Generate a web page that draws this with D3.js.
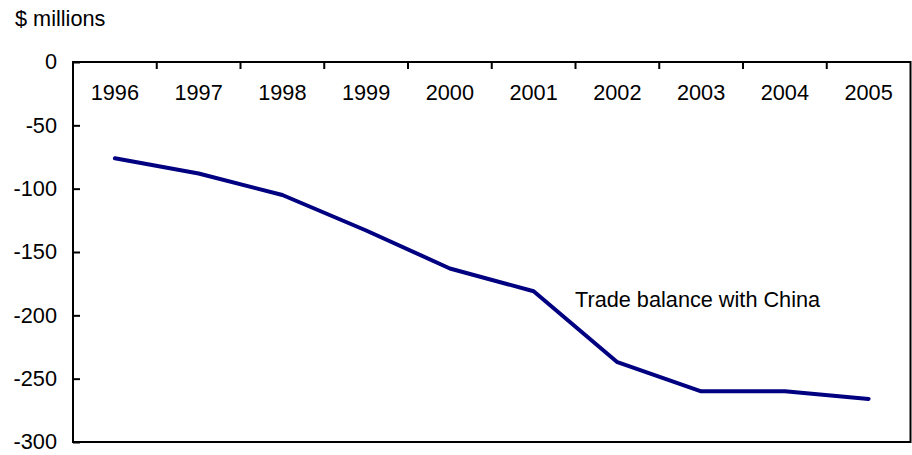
<!DOCTYPE html>
<html>
<head>
<meta charset="utf-8">
<script src="https://cdn.jsdelivr.net/npm/d3@7"></script>
<style>
  html, body { margin: 0; padding: 0; background: #fff; }
  svg { display: block; font-family: "Liberation Sans", Arial, sans-serif; }
</style>
</head>
<body>
<svg id="chart" width="912" height="455"></svg>
<script>
// Trade balance with China, $ millions
const years = ["1996", "1997", "1998", "1999", "2000", "2001", "2002", "2003", "2004", "2005"];
const balance = [-76, -88, -105, -133, -163, -181, -237, -260, -260, -266];
const yTicks = [0, -50, -100, -150, -200, -250, -300];
const unitLabel = "$ millions";
const seriesLabel = "Trade balance with China";

const svg = d3.select("#chart");
const plot = { left: 73, right: 910.5, top: 62, bottom: 442 };
const fontSize = 21.7;

const x = d3.scaleBand().domain(years).range([plot.left, plot.right]).padding(0);
const y = d3.scaleLinear().domain([-300, 0]).range([plot.bottom, plot.top]);

// Unit caption above the value axis
svg.append("text")
  .attr("x", 15).attr("y", 26)
  .attr("font-size", fontSize)
  .attr("fill", "#000")
  .text(unitLabel);

// Value axis: labels outside, ticks pointing inward; plain hyphen for negatives
const yAxis = svg.append("g")
  .attr("transform", `translate(${plot.left},0)`)
  .call(d3.axisRight(y).tickValues(yTicks).tickSize(7).tickFormat(d => String(d)).tickPadding(0));
yAxis.select(".domain").remove();
yAxis.selectAll(".tick line").attr("stroke", "#000").attr("stroke-width", 2);
yAxis.selectAll(".tick text")
  .attr("x", -16)
  .attr("text-anchor", "end")
  .attr("font-size", fontSize)
  .attr("fill", "#000")
  .attr("font-family", "Liberation Sans, Arial, sans-serif");

// Category axis along the zero line, ticks at band boundaries pointing down
const bounds = years.slice(1).map(yr => x(yr));
svg.append("g")
  .selectAll("line")
  .data(bounds)
  .join("line")
  .attr("x1", d => d).attr("x2", d => d)
  .attr("y1", y(0)).attr("y2", y(0) + 7)
  .attr("stroke", "#000").attr("stroke-width", 2);

svg.append("g")
  .selectAll("text")
  .data(years)
  .join("text")
  .attr("x", d => x(d) + x.bandwidth() / 2)
  .attr("y", 100)
  .attr("text-anchor", "middle")
  .attr("font-size", fontSize)
  .attr("fill", "#000")
  .text(d => d);

// Plot frame
svg.append("rect")
  .attr("x", plot.left).attr("y", plot.top)
  .attr("width", plot.right - plot.left)
  .attr("height", plot.bottom - plot.top)
  .attr("fill", "none")
  .attr("stroke", "#000")
  .attr("stroke-width", 2);

// Series line
const line = d3.line()
  .x((d, i) => x(years[i]) + x.bandwidth() / 2)
  .y(d => y(d));

svg.append("path")
  .datum(balance)
  .attr("d", line)
  .attr("fill", "none")
  .attr("stroke", "#000080")
  .attr("stroke-width", 4)
  .attr("stroke-linejoin", "round")
  .attr("stroke-linecap", "round");

// Series label
svg.append("text")
  .attr("x", 575).attr("y", 307)
  .attr("font-size", fontSize)
  .attr("fill", "#000")
  .text(seriesLabel);
</script>
</body>
</html>
